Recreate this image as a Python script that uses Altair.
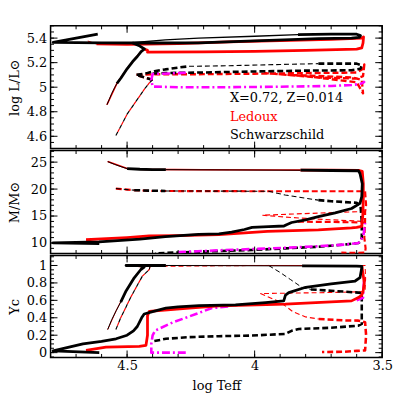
import altair as alt
import pandas as pd

# ---------------- data (log Teff, value) ----------------
# Panel 1: log L/Lsun
HRD_S25_MS_THIN = [(4.579, 4.857), (4.570, 4.90), (4.560, 4.95), (4.548, 5.00), (4.540, 5.03)]
HRD_S25_MS = [(4.540, 5.03), (4.524, 5.075), (4.500, 5.15), (4.478, 5.209), (4.460, 5.25), (4.445, 5.29),
              (4.432, 5.311), (4.450, 5.335), (4.480, 5.362)]
HRD_S25_CROSS = [(4.480, 5.362), (4.350, 5.385), (4.220, 5.400), (4.000, 5.415), (3.830, 5.428)]
HRD_S25_LOOP = [(3.830, 5.428), (3.700, 5.432), (3.600, 5.432), (3.585, 5.420), (3.590, 5.405), (3.620, 5.400),
                (3.750, 5.395), (3.830, 5.390), (4.000, 5.378), (4.220, 5.362), (4.400, 5.360), (4.600, 5.362),
                (4.790, 5.365), (4.700, 5.400), (4.615, 5.432)]
HRD_L25_MS = [(4.579, 4.857), (4.540, 5.03), (4.500, 5.15), (4.478, 5.209), (4.445, 5.29), (4.432, 5.311)]
HRD_L25 = [(4.432, 5.311), (4.420, 5.300), (4.420, 5.285), (4.200, 5.287), (4.000, 5.292), (3.800, 5.300),
           (3.600, 5.310), (3.580, 5.320), (3.575, 5.360), (3.573, 5.410), (3.580, 5.400), (3.700, 5.390),
           (3.900, 5.380), (4.100, 5.370), (4.300, 5.355), (4.420, 5.350), (4.500, 5.348), (4.620, 5.352)]
HRD_L25_TIP = [(4.620, 5.352), (4.654, 5.376)]
HRD_S20_MS = [(4.544, 4.607), (4.520, 4.700), (4.500, 4.780), (4.478, 4.846), (4.450, 4.930), (4.430, 4.990),
              (4.413, 5.035), (4.400, 5.060)]
HRD_S20_A = [(4.400, 5.060), (4.465, 5.100), (4.420, 5.115), (4.393, 5.130), (4.350, 5.145), (4.300, 5.160),
             (4.257, 5.170)]
HRD_S20_B = [(4.257, 5.170), (4.100, 5.175), (3.900, 5.185), (3.750, 5.192)]
HRD_S20_C = [(3.750, 5.192), (3.600, 5.192), (3.580, 5.178), (3.585, 5.150), (3.620, 5.138), (3.800, 5.135),
             (4.000, 5.128), (4.200, 5.120), (4.350, 5.115), (4.400, 5.112)]
HRD_L20 = [(4.400, 5.060), (4.465, 5.100), (4.400, 5.105), (4.200, 5.106), (4.000, 5.110), (3.800, 5.115),
           (3.650, 5.118), (3.600, 5.120), (3.575, 5.150), (3.570, 5.185), (3.575, 5.090), (3.600, 5.070),
           (3.750, 5.080), (3.960, 5.115), (3.800, 5.090), (3.600, 5.040), (3.575, 4.950), (3.580, 5.060),
           (3.620, 5.080), (3.850, 5.100)]
HRD_MAG = [(4.270, 5.118), (4.330, 5.112), (4.400, 5.108), (4.405, 5.060), (4.400, 5.005), (4.300, 5.000),
           (4.100, 5.000), (3.900, 5.004), (3.700, 5.010), (3.620, 5.018), (3.590, 5.025), (3.575, 5.035),
           (3.568, 5.050)]

# Panel 2: M/Msun
M_S25_MS_THIN = [(4.576, 25.1), (4.550, 24.6), (4.520, 24.1), (4.500, 23.8)]
M_S25_A = [(4.500, 23.8), (4.450, 23.68), (4.400, 23.62), (4.348, 23.6)]
M_S25_B = [(4.348, 23.6), (4.100, 23.55), (3.820, 23.5)]
M_S25_C = [(3.820, 23.5), (3.700, 23.45), (3.593, 23.4), (3.587, 22.9), (3.578, 21.0), (3.580, 18.6),
           (3.587, 17.35), (3.620, 16.4), (3.684, 15.6), (3.750, 14.9), (3.800, 14.3), (3.855, 13.8),
           (3.875, 13.4), (3.885, 13.15), (3.945, 13.05), (4.010, 12.9), (4.040, 12.5), (4.090, 12.0),
           (4.140, 11.7), (4.220, 11.6), (4.350, 11.2), (4.450, 10.7), (4.610, 10.2), (4.790, 10.0),
           (4.609, 9.9)]
M_L25_TOP = [(4.576, 25.1), (4.500, 23.8), (4.430, 23.65), (4.200, 23.6), (3.900, 23.55), (3.820, 23.52)]
M_L25 = [(3.820, 23.52), (3.700, 23.5), (3.590, 23.45), (3.578, 23.3), (3.574, 21.0), (3.574, 18.0),
         (3.576, 15.0), (3.580, 13.1), (3.600, 12.9), (3.620, 12.8), (3.750, 12.45), (3.950, 12.15),
         (4.140, 11.55), (4.300, 11.35), (4.413, 11.3), (4.500, 11.0), (4.600, 10.75), (4.661, 10.6)]
M_S20_MS_THIN = [(4.544, 20.1), (4.500, 19.9), (4.472, 19.8)]
M_S20_A = [(4.472, 19.8), (4.400, 19.7), (4.350, 19.65)]
M_S20_B = [(4.350, 19.65), (4.100, 19.62), (3.945, 19.6), (3.880, 18.9), (3.800, 18.3), (3.750, 17.95)]
M_S20_C = [(3.750, 17.95), (3.700, 17.75), (3.600, 17.45), (3.585, 17.0), (3.580, 14.0), (3.580, 11.0),
           (3.585, 10.3), (3.593, 10.0), (3.650, 9.7), (3.750, 9.3), (3.880, 9.0), (4.010, 8.7),
           (4.140, 8.5), (4.300, 8.25), (4.390, 8.07)]
M_L20 = [(4.544, 20.1), (4.472, 19.8), (4.400, 19.65), (4.000, 19.6), (3.700, 19.6), (3.600, 19.6),
         (3.567, 19.6), (3.563, 17.0), (3.567, 15.8), (3.567, 14.0), (3.570, 11.0), (3.565, 9.0),
         (3.567, 8.2), (3.600, 8.15), (3.660, 8.2)]
M_L20_FAN = [(3.567, 15.85), (3.750, 15.55), (3.970, 15.15), (3.850, 14.7), (3.700, 14.3), (3.567, 14.0)]
M_L20_LOW = [(3.830, 13.95), (3.700, 13.9), (3.567, 13.8)]
M_MAG = [(4.300, 8.3), (4.140, 8.65), (3.880, 9.1), (3.750, 9.4), (3.645, 9.7), (3.593, 10.0),
         (3.574, 11.2), (3.567, 13.7)]

# Panel 3: Yc
Y_S25_MS_THIN = [(4.576, 0.265), (4.560, 0.38), (4.543, 0.48), (4.525, 0.58)]
Y_S25_A = [(4.525, 0.58), (4.504, 0.708), (4.472, 0.859), (4.446, 0.954), (4.433, 0.981),
           (4.450, 0.998), (4.504, 1.0), (4.348, 1.0)]
Y_S25_B = [(4.348, 1.0), (3.814, 0.995)]
Y_S25_C = [(3.814, 0.995), (3.600, 0.992), (3.580, 0.990), (3.580, 0.970), (3.587, 0.860), (3.606, 0.822),
           (3.700, 0.790), (3.800, 0.750), (3.866, 0.689), (3.879, 0.660), (3.886, 0.594), (3.957, 0.575),
           (4.075, 0.548), (4.218, 0.540), (4.300, 0.525), (4.348, 0.510), (4.400, 0.470), (4.433, 0.443),
           (4.443, 0.400), (4.460, 0.300), (4.475, 0.250), (4.500, 0.200), (4.543, 0.159), (4.600, 0.130),
           (4.673, 0.100), (4.790, 0.020), (4.609, 0.0)]
Y_L25_MS = [(4.576, 0.265), (4.543, 0.48), (4.504, 0.708), (4.472, 0.859), (4.446, 0.954), (4.433, 0.981),
            (4.500, 1.0), (4.000, 1.0), (3.600, 1.0), (3.580, 1.0)]
Y_L25 = [(3.580, 1.0), (3.575, 0.90), (3.570, 0.80), (3.575, 0.70), (3.580, 0.66), (3.593, 0.632),
         (3.620, 0.594), (3.880, 0.556), (4.140, 0.537), (4.257, 0.511), (4.413, 0.473), (4.420, 0.424),
         (4.420, 0.200), (4.426, 0.083), (4.452, 0.072), (4.583, 0.064), (4.661, 0.026)]
Y_S20_MS = [(4.544, 0.265), (4.525, 0.40), (4.505, 0.519), (4.485, 0.64), (4.465, 0.746), (4.440, 0.878),
            (4.413, 0.954)]
Y_S20_TOP = [(4.413, 0.954), (4.410, 0.99), (4.350, 1.0), (3.945, 1.0)]
Y_S20_CURVE = [(3.945, 1.0), (3.900, 0.92), (3.860, 0.84), (3.830, 0.78), (3.814, 0.746), (3.780, 0.725)]
Y_S20_C = [(3.780, 0.725), (3.700, 0.71), (3.593, 0.689), (3.580, 0.68), (3.580, 0.50), (3.580, 0.33),
           (3.593, 0.31), (3.700, 0.285), (3.827, 0.272), (3.853, 0.253), (3.879, 0.215), (4.010, 0.196),
           (4.140, 0.189), (4.257, 0.178), (4.348, 0.159), (4.394, 0.132)]
Y_L20_TOP = [(4.413, 0.954), (4.410, 0.99), (4.000, 1.0), (3.600, 1.0), (3.567, 1.0), (3.565, 0.85),
             (3.567, 0.70), (3.700, 0.69), (3.977, 0.678)]
Y_L20_FAN = [(3.977, 0.678), (3.900, 0.58), (3.880, 0.537), (3.850, 0.47), (3.800, 0.41), (3.749, 0.386)]
Y_L20_B = [(3.749, 0.386), (3.650, 0.37), (3.593, 0.367), (3.567, 0.35), (3.563, 0.20), (3.567, 0.026),
           (3.600, 0.02), (3.650, 0.01), (3.736, 0.007)]
Y_MAG = [(4.270, 0.0), (4.350, 0.0), (4.405, 0.0), (4.405, 0.1), (4.400, 0.197), (4.390, 0.253),
         (4.320, 0.348), (4.230, 0.443), (4.170, 0.51), (4.100, 0.53)]
Y_MAG_RSG = [(3.600, 0.60), (3.575, 0.63), (3.573, 0.75), (3.570, 0.86)]

# axis labels / ticks
X_MAJOR = [4.5, 4.0, 3.5]
Y1_MAJOR = [4.6, 4.8, 5, 5.2, 5.4]
Y2_MAJOR = [10, 15, 20, 25]
Y3_MAJOR = [0, 0.2, 0.4, 0.6, 0.8, 1]
ANNOT = [("X=0.72,  Z=0.014", 4.097, 4.914, "black"),
         ("Ledoux", 4.097, 4.757, "red"),
         ("Schwarzschild", 4.097, 4.614, "black")]

# ---------------- layout ----------------
W = 335
FONT = "DejaVu Serif"
XDOM = [4.8, 3.5]
BLK, RED, MAG = "#000000", "#ff0000", "#ff00ff"
THICK, THIN = 2.8, 1.0


def ticks_range(a, b, step):
    n = int(round((b - a) / step))
    return [round(a + i * step, 4) for i in range(n + 1)]


X_MINOR = ticks_range(3.5, 4.8, 0.1)


def make_panel(series, ydom, height, ymajor, yminor, ytitle, xaxis, extra=None):
    X = alt.X("logT:Q", scale=alt.Scale(domain=XDOM, nice=False, zero=False), axis=xaxis)
    yaxis = alt.Axis(values=ymajor, labelExpr="datum.value + ''", ticks=False, domain=False, grid=False,
                     labelFont=FONT, labelFontSize=13, labelPadding=4, labelFlush=False, labelOverlap=False,
                     title=ytitle, titleFont=FONT, titleFontSize=13, titleFontWeight="normal",
                     titleX=-36, titleBaseline="middle")
    Y = alt.Y("v:Q", scale=alt.Scale(domain=ydom, nice=False, zero=False), axis=yaxis)
    layers = []
    for pts, color, width, dash, offset in series:
        df = pd.DataFrame(pts, columns=["logT", "v"])
        df["o"] = range(len(df))
        kw = dict(color=color, strokeWidth=width, clip=True, strokeJoin="round")
        if dash:
            kw["strokeDash"] = dash
        if offset:
            kw["strokeDashOffset"] = offset
        layers.append(alt.Chart(df).mark_line(**kw).encode(x=X, y=Y, order="o:Q"))
    # inward ticks on all four sides
    for vals, ln in ((X_MAJOR, 7), (X_MINOR, 3.5)):
        d = pd.DataFrame({"logT": vals})
        layers.append(alt.Chart(d).mark_rule(color="black", strokeWidth=1).encode(
            x=X, y=alt.value(0), y2=alt.value(ln)))
        layers.append(alt.Chart(d).mark_rule(color="black", strokeWidth=1).encode(
            x=X, y=alt.value(height), y2=alt.value(height - ln)))
    for vals, ln in ((ymajor, 7), (yminor, 3.5)):
        d = pd.DataFrame({"v": vals})
        layers.append(alt.Chart(d).mark_rule(color="black", strokeWidth=1).encode(
            y=Y, x=alt.value(0), x2=alt.value(ln)))
        layers.append(alt.Chart(d).mark_rule(color="black", strokeWidth=1).encode(
            y=Y, x=alt.value(W), x2=alt.value(W - ln)))
    if extra is not None:
        d = pd.DataFrame(extra, columns=["label", "logT", "v", "c"])
        layers.append(alt.Chart(d).mark_text(align="left", baseline="middle", font=FONT, fontSize=13).encode(
            x=X, y=Y, text="label:N", color=alt.Color("c:N", scale=None)))
    return alt.layer(*layers).properties(width=W, height=height)


DASH_K = [6, 3]
DASH_T = [5, 3]
DASH_M = [8, 3, 2, 3]

p1_series = [
    (HRD_L20, RED, 2.4, DASH_K, None),
    (HRD_S20_MS, RED, 1.2, [4, 4], 4),
    (HRD_S20_MS, BLK, 1.2, [4, 4], None),
    (HRD_S20_A, BLK, 2.6, DASH_K, None),
    (HRD_S20_B, BLK, 1.1, DASH_T, None),
    (HRD_S20_C, BLK, 2.6, DASH_K, None),
    (HRD_MAG, MAG, 2.6, DASH_M, None),
    (HRD_L25_MS, RED, 1.6, None, None),
    (HRD_L25, RED, THICK, None, None),
    (HRD_L25_TIP, RED, THIN, None, None),
    (HRD_S25_MS_THIN, BLK, THIN, None, None),
    (HRD_S25_MS, BLK, THICK, None, None),
    (HRD_S25_CROSS, BLK, 1.3, None, None),
    (HRD_S25_LOOP, BLK, THICK, None, None),
]
p2_series = [
    (M_L20, RED, 2.2, DASH_K, None),
    (M_L20_FAN, RED, 1.2, DASH_T, None),
    (M_L20_LOW, RED, 2.2, DASH_K, None),
    (M_S20_MS_THIN, BLK, 1.1, DASH_T, None),
    (M_S20_A, BLK, 2.6, DASH_K, None),
    (M_S20_B, BLK, 1.1, DASH_T, None),
    (M_S20_C, BLK, 2.6, DASH_K, None),
    (M_MAG, MAG, 2.6, DASH_M, None),
    (M_L25_TOP, RED, 1.6, None, None),
    (M_L25, RED, THICK, None, None),
    (M_S25_MS_THIN, BLK, THIN, None, None),
    (M_S25_A, BLK, THICK, None, None),
    (M_S25_B, BLK, THIN, None, None),
    (M_S25_C, BLK, THICK, None, None),
]
p3_series = [
    (Y_L20_TOP, RED, 1.1, DASH_T, None),
    (Y_L20_FAN, RED, 1.1, DASH_T, None),
    (Y_L20_B, RED, 2.6, DASH_K, None),
    (Y_S20_MS, RED, 1.2, [4, 4], 4),
    (Y_S20_MS, BLK, 1.2, [4, 4], None),
    (Y_S20_TOP, BLK, 1.0, DASH_T, None),
    (Y_S20_CURVE, BLK, 1.0, DASH_T, None),
    (Y_S20_C, BLK, 2.6, DASH_K, None),
    (Y_MAG, MAG, 2.6, DASH_M, None),
    (Y_MAG_RSG, MAG, 2.6, DASH_M, None),
    (Y_L25_MS, RED, THIN, None, None),
    (Y_L25, RED, THICK, None, None),
    (Y_S25_MS_THIN, BLK, THIN, None, None),
    (Y_S25_A, BLK, THICK, None, None),
    (Y_S25_B, BLK, THIN, None, None),
    (Y_S25_C, BLK, THICK, None, None),
]

xaxis_bottom = alt.Axis(values=X_MAJOR, labelExpr="datum.value + ''", ticks=False, domain=False, grid=False,
                        labelFont=FONT, labelFontSize=13, labelPadding=2, labelFlush=False,
                        title="log Teff", titleFont=FONT, titleFontSize=13, titleFontWeight="normal",
                        titlePadding=7)

p1 = make_panel(p1_series, [4.5, 5.5], 124, Y1_MAJOR, ticks_range(4.5, 5.5, 0.05), "log L/L⊙", None,
                extra=[(a, b, c, d) for a, b, c, d in ANNOT])
p2 = make_panel(p2_series, [8.05, 27.15], 104, Y2_MAJOR, ticks_range(9, 27, 1), "M/M⊙", None)
p3 = make_panel(p3_series, [-0.055, 1.115], 103, Y3_MAJOR, ticks_range(-0.05, 1.1, 0.05), "Yc", xaxis_bottom)

chart = alt.vconcat(p1, p2, p3, spacing=2, bounds="flush").configure_view(
    stroke="black", strokeWidth=1.5).properties(
    padding={"left": 0, "top": 14, "right": 5, "bottom": 5})

chart.save("out.html", embed_options={"renderer": "svg", "actions": False})
